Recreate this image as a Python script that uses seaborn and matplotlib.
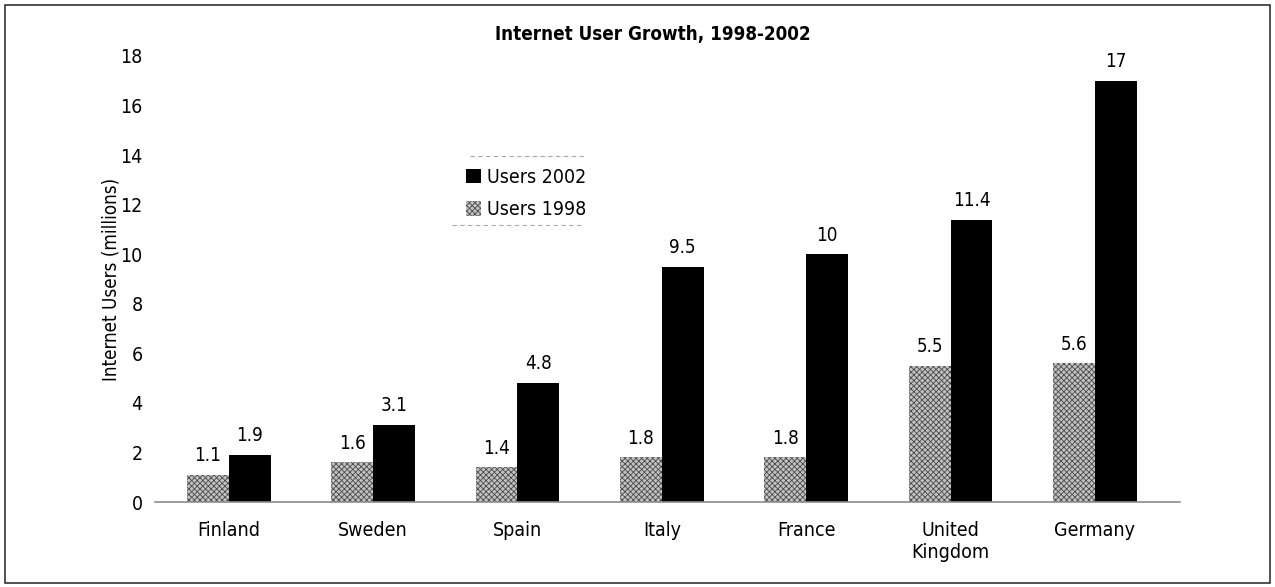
import numpy as np
import pandas as pd
import matplotlib
matplotlib.use("Agg")
import matplotlib.pyplot as plt
import seaborn as sns
from matplotlib.patches import Rectangle
from matplotlib.lines import Line2D

countries = ["Finland", "Sweden", "Spain", "Italy", "France", "United\nKingdom", "Germany"]
users_1998 = [1.1, 1.6, 1.4, 1.8, 1.8, 5.5, 5.6]
users_2002 = [1.9, 3.1, 4.8, 9.5, 10, 11.4, 17]
series = ["Users 1998", "Users 2002"]

df = pd.DataFrame({
    "country": countries * 2,
    "series": [series[0]] * len(countries) + [series[1]] * len(countries),
    "users": users_1998 + users_2002,
})

sns.set_theme(style="white")
plt.rcParams["font.family"] = ["DejaVu Sans"]
plt.rcParams["font.stretch"] = "condensed"
plt.rcParams["hatch.linewidth"] = 0.6
for k in ["text.color", "axes.labelcolor", "xtick.color", "ytick.color"]:
    plt.rcParams[k] = "black"

fig = plt.figure(figsize=(12.75, 5.87), dpi=100)
ax = fig.add_axes([0.1216, 0.1448, 0.804, 0.7598])

gray = "#c2c2c2"
hatch_col = "#4a4a4a"
sns.barplot(data=df, x="country", y="users", hue="series", hue_order=series,
            palette=[gray, "black"], width=0.58, ax=ax, legend=False)

n = len(countries)
for i, p in enumerate(ax.patches[:2 * n]):
    p.set_linewidth(0)
    if i < n:
        p.set_hatch("xxxxxx")
        p.set_edgecolor(hatch_col)

for cont in ax.containers:
    labels = [f"{v:g}" for v in cont.datavalues]
    ax.bar_label(cont, labels=labels, padding=7, fontsize=13.5)

ax.set_ylim(0, 18)
ax.set_xlim(-0.51, 6.59)
ax.set_yticks(range(0, 19, 2))
ax.tick_params(axis="both", length=0, labelsize=14)
ax.tick_params(axis="x", pad=14)
ax.tick_params(axis="y", pad=9)
ax.set_xlabel("")
ax.set_ylabel("Internet Users (millions)", fontsize=13.5, labelpad=0)
for s in ["top", "right", "left"]:
    ax.spines[s].set_visible(False)
ax.spines["bottom"].set_color("#8c8c8c")
ax.spines["bottom"].set_linewidth(1.2)

fig.text(0.512, 0.942, "Internet User Growth, 1998-2002", ha="center", va="center",
         fontsize=13.5, fontweight="bold")

h1998 = Rectangle((0, 0), 1, 1, facecolor=gray, hatch="xxxxxx",
                  edgecolor=hatch_col, linewidth=0)
h2002 = Rectangle((0, 0), 1, 1, facecolor="black", linewidth=0)
leg = ax.legend([h2002, h1998], ["Users 2002", "Users 1998"],
                loc="upper left", bbox_to_anchor=(0.29, 0.78),
                frameon=False, fontsize=14, handlelength=0.8, handleheight=0.8,
                handletextpad=0.3, borderpad=0.2, labelspacing=0.7)
ax.add_line(Line2D([0.307, 0.418], [0.776, 0.776], transform=ax.transAxes,
                   color="#aaaaaa", linewidth=0.8, linestyle=(0, (4, 3))))
ax.add_line(Line2D([0.29, 0.418], [0.621, 0.621], transform=ax.transAxes,
                   color="#aaaaaa", linewidth=0.8, linestyle=(0, (4, 3))))

fig.patches.append(Rectangle((0.004, 0.006), 0.992, 0.986, transform=fig.transFigure,
                             fill=False, edgecolor="#333333", linewidth=1.2))

fig.savefig("out.png", dpi=100)
